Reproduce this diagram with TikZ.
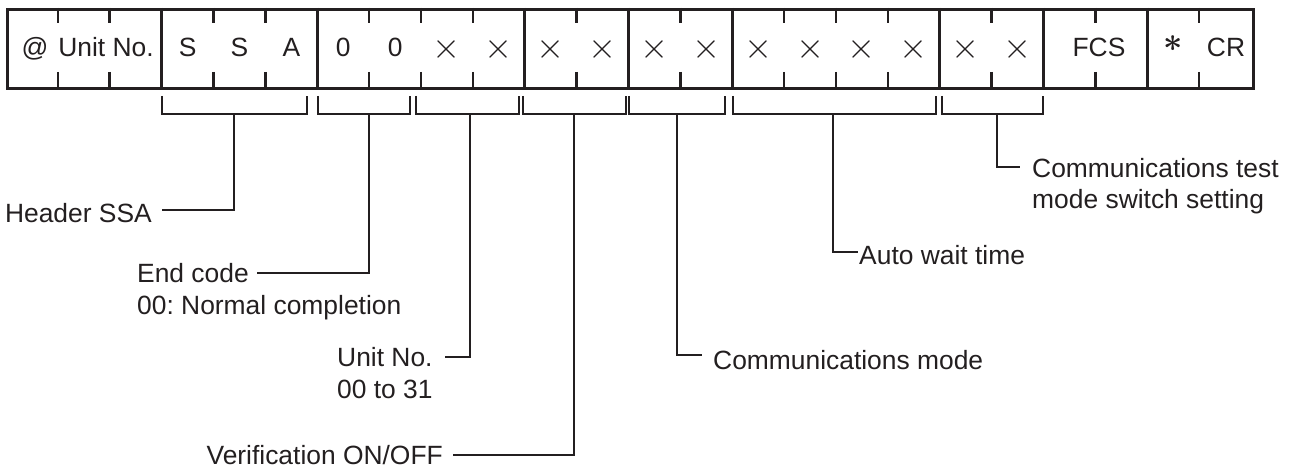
\documentclass[tikz,border=0pt]{standalone}
\usepackage{fontspec}
\setmainfont{Liberation Sans}
\definecolor{ink}{HTML}{231F20}
\begin{document}
\frenchspacing
\begin{tikzpicture}[x=1pt,y=-1pt,
  font=\fontsize{26.4}{31}\selectfont,
  boxline/.style={draw=ink, line width=2.6pt},
  thinline/.style={draw=ink, line width=1.6pt},
  cellch/.style={text=ink, inner sep=0pt, anchor=base},
  lab/.style={text=ink, inner sep=0pt, text height=18.9pt, text depth=0pt}]
\useasboundingbox (0,0) rectangle (1292,468);
\def\cw{51.875}
% frame
\node[boxline, anchor=north west, inner sep=0pt, minimum width=1246pt, minimum height=79pt] (frame) at (6,8) {};
% group separators
\foreach \k in {3,6,10,12,14,18,20,22}
  \draw[boxline] ({6+\k*\cw},8) -- ({6+\k*\cw},87);
% ticks
\foreach \k in {1,2,4,5,7,8,9,11,13,15,16,17,19,21,23}{
  \draw[boxline] ({6+\k*\cw},8) -- ({6+\k*\cw},23);
  \draw[boxline] ({6+\k*\cw},72) -- ({6+\k*\cw},87);
}
% characters
\node[cellch] (c1) at (35,57) {@};
\node[cellch] (c2) at (106,57) {Unit No.};
\node[cellch] (c4) at (187.6,57) {S};
\node[cellch] (c5) at (239.4,57) {S};
\node[cellch] (c6) at (291.3,57) {A};
\node[cellch] (c7) at (343.2,57) {0};
\node[cellch] (c8) at (395.1,57) {0};
\foreach \i/\xx in {9/446.9,10/498.8,11/550.7,12/602.6,13/654.4,14/706.3,15/758.2,16/810.1,17/861.9,18/913.8,19/965.7,20/1017.6}
  \node[cellch] (c\i) at (\xx,59) {\scalebox{1.45}{$\times$}};
\node[cellch] (c21) at (1099,57) {FCS};
\node[cellch] (c23) at (1173,57) {\raisebox{5pt}{\scalebox{1.35}{\boldmath$\ast$}}};
\node[cellch] (c24) at (1226,57) {CR};
% brackets
\draw[thinline] (162,96) |- (307,114) -- (307,96);
\draw[thinline] (318,96) |- (410,114) -- (410,96);
\draw[thinline] (416,96) |- (519,114) -- (519,96);
\draw[thinline] (523,96) |- (626,114) -- (626,96);
\draw[thinline] (629,96) |- (725,114) -- (725,96);
\draw[thinline] (733,96) |- (936,114) -- (936,96);
\draw[thinline] (942,96) |- (1043,114) -- (1043,96);
% stem tops and line ends
\coordinate (s1) at (234,114);  \coordinate (h1) at (162,210);
\coordinate (s2) at (369,114);  \coordinate (h2) at (257,273);
\coordinate (s3) at (470,114);  \coordinate (h3) at (445,357);
\coordinate (s4) at (574,114);  \coordinate (h4) at (453,455);
\coordinate (s5) at (677,114);  \coordinate (h5) at (702,355);
\coordinate (s6) at (833,114);  \coordinate (h6) at (858,252);
\coordinate (s7) at (997,114);  \coordinate (h7) at (1020,167);
% labels
\node[lab, anchor=east] (l1) at (152,213) {Header SSA};
\node[lab, anchor=west] (l2) at (137,273) {End code};
\node[lab, anchor=west] (l2b) at (137,305) {00: Normal completion};
\node[lab, anchor=west] (l3) at (337,357) {Unit No.};
\node[lab, anchor=west] (l3b) at (337,389) {00 to 31};
\node[lab, anchor=east] (l4) at (443,455) {Verification ON/OFF};
\node[lab, anchor=west] (l5) at (713,360) {Communications mode};
\node[lab, anchor=west] (l6) at (859,255) {Auto wait time};
\node[lab, anchor=west] (l7) at (1032,168) {Communications test};
\node[lab, anchor=west] (l7b) at (1032,199) {mode switch setting};
% connectors
\foreach \n in {1,...,7}
  \draw[thinline] (s\n) |- (h\n);
\end{tikzpicture}
\end{document}
